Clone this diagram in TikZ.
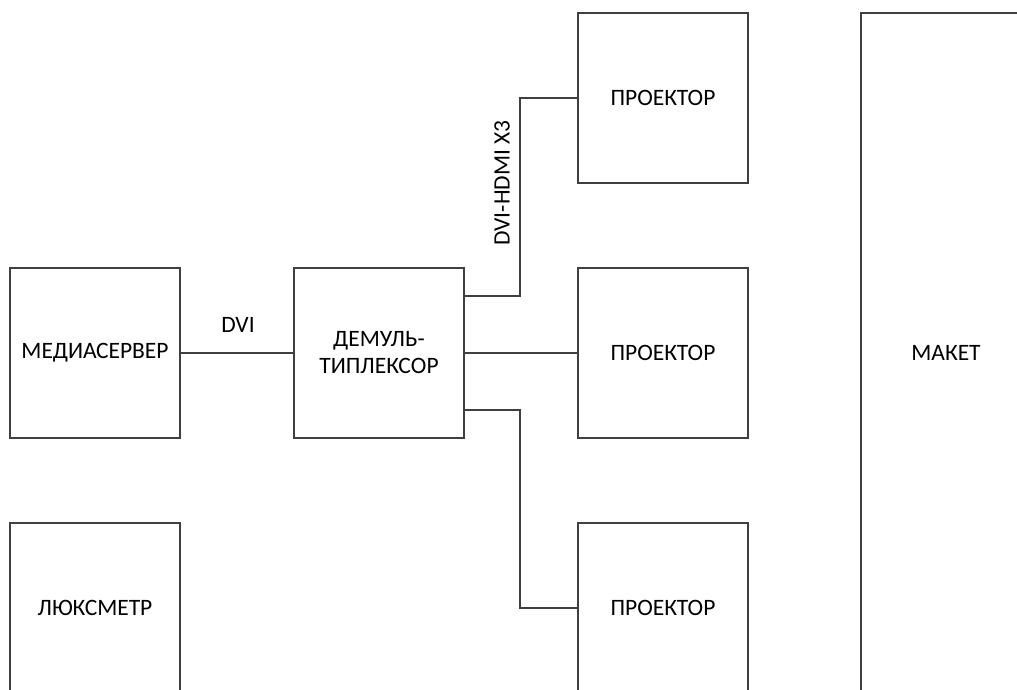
\documentclass[tikz,border=0pt]{standalone}
\usepackage{fontspec}
\setmainfont{Carlito}
\begin{document}
\begin{tikzpicture}[x=1pt,y=-1pt,
  box/.style={draw=black!75,line width=1.2pt,minimum width=170pt,minimum height=170pt,inner sep=0pt,font=\fontsize{23.5}{27}\selectfont,align=center},
  wire/.style={draw=black!75,line width=1.1pt},
  lbl/.style={font=\fontsize{23.5}{27}\selectfont}]
\useasboundingbox (0,0) rectangle (1017,689);
\clip (0,0) rectangle (1017,689);
\node[box] (ms) at (95,353) {МЕДИАСЕРВЕР};
\node[box] (lux) at (95,608) {ЛЮКСМЕТР};
\node[box] (dm) at (379,353) {ДЕМУЛЬ-\\ТИПЛЕКСОР};
\node[box] (p1) at (663,98) {ПРОЕКТОР};
\node[box] (p2) at (663,353) {ПРОЕКТОР};
\node[box] (p3) at (663,608) {ПРОЕКТОР};
\node[box,minimum height=680pt] (mk) at (946,353) {МАКЕТ};
\coordinate (bx) at (520,0);
\draw[wire] (ms.east) -- (dm.west);
\draw[wire] (dm.east) -- (p2.west);
\draw[wire] ([yshift=57pt]dm.east) -| (bx |- p1.west) -- (p1.west);
\draw[wire] ([yshift=-57pt]dm.east) -| (bx |- p3.west) -- (p3.west);
\node[lbl] (dvi) at (238,325) {DVI};
\node[lbl,rotate=90] (dh) at (502,183) {DVI-HDMI X3};
\end{tikzpicture}
\end{document}
